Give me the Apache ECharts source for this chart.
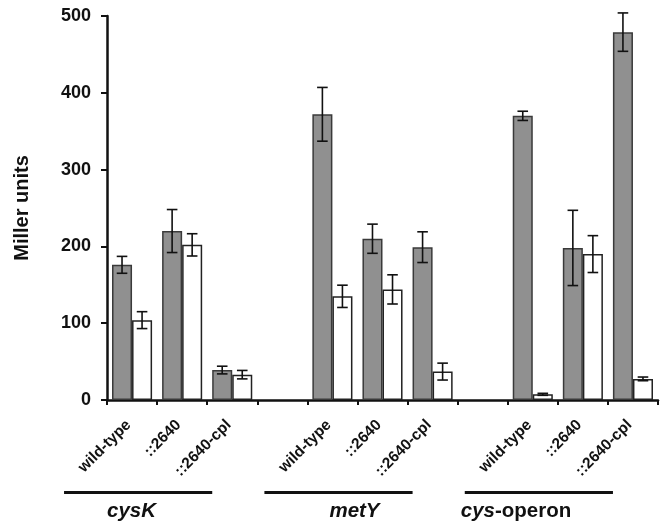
<!DOCTYPE html>
<html>
<head>
<meta charset="utf-8">
<script src="https://cdn.jsdelivr.net/npm/echarts@6/dist/echarts.min.js"></script>
<style>
html,body{margin:0;padding:0;background:#fff;}
#chart{width:665px;height:523px;}
</style>
</head>
<body>
<div id="chart"></div>
<script>
// ---- data ----
const categories = ['wild-type', '::2640', '::2640-cpl', '', 'wild-type', '::2640', '::2640-cpl', '', 'wild-type', '::2640', '::2640-cpl'];
const grayValues = [176, 220, 39, null, 372, 210, 199, null, 370, 198, 479];
const grayErrors = [11, 28, 5, null, 35, 19, 20, null, 6, 49, 25];
const whiteValues = [104, 202, 33, null, 135, 144, 37, null, 7.4, 190, 27.5];
const whiteErrors = [11, 14.5, 5.5, null, 14.5, 19, 11, null, 1.3, 24, 2.4];
const groupNames = ['cysK', 'metY', 'cys-operon'];
const groupFirstIndex = [0, 4, 8];
const groupLastIndex = [2, 6, 10];
const yTicks = [0, 100, 200, 300, 400, 500];

const chart = echarts.init(document.getElementById('chart'), null, {renderer: 'canvas'});
const FONT = 'Liberation Sans, Arial, Helvetica, sans-serif';

function errData(vals, errs) {
  const out = [];
  vals.forEach((v, i) => { if (v != null) out.push([i, v, errs[i]]); });
  return out;
}
function errRenderer(offsetFrac) {
  return function (params, api) {
    const i = api.value(0), v = api.value(1), e = api.value(2);
    const bw = api.size([1, 0])[0];
    const top = api.coord([i, v + e]);
    const bot = api.coord([i, v - e]);
    const cx = top[0] + offsetFrac * bw;
    const cap = 5.3;
    const style = {stroke: '#111', lineWidth: 1.6, fill: null};
    return {
      type: 'group',
      children: [
        {type: 'line', shape: {x1: cx, y1: top[1], x2: cx, y2: bot[1]}, style: style},
        {type: 'line', shape: {x1: cx - cap, y1: top[1], x2: cx + cap, y2: top[1]}, style: style},
        {type: 'line', shape: {x1: cx - cap, y1: bot[1], x2: cx + cap, y2: bot[1]}, style: style}
      ]
    };
  };
}

chart.setOption({
  animation: false,
  backgroundColor: '#ffffff',
  grid: {left: 107, right: 7, top: 16, bottom: 123, containLabel: false},
  xAxis: {
    type: 'category',
    data: categories,
    boundaryGap: true,
    axisLine: {show: true, lineStyle: {color: '#111', width: 2.5}},
    axisTick: {show: true, length: 5, interval: 0, lineStyle: {color: '#111', width: 2}},
    axisLabel: {interval: 0, rotate: 45, margin: 19, padding: [0, 5, 0, 0], fontFamily: FONT, fontWeight: 'bold', fontSize: 15.5, color: '#111'},
    splitLine: {show: false}
  },
  yAxis: {
    type: 'value',
    min: yTicks[0],
    max: yTicks[yTicks.length - 1],
    interval: 100,
    name: 'Miller units',
    nameLocation: 'middle',
    nameGap: 75,
    nameRotate: 90,
    nameTextStyle: {fontFamily: FONT, fontWeight: 'bold', fontSize: 20, color: '#111'},
    axisLine: {show: true, lineStyle: {color: '#111', width: 2.5}},
    axisTick: {show: true, length: 6, lineStyle: {color: '#111', width: 2}},
    axisLabel: {margin: 16, fontFamily: FONT, fontWeight: 'bold', fontSize: 18, color: '#111'},
    splitLine: {show: false}
  },
  series: [
    {
      type: 'bar', name: 'gray', data: grayValues, barWidth: '40%', barGap: '0%',
      itemStyle: {color: '#909090', borderColor: '#3a3a3a', borderWidth: 1.5}
    },
    {
      type: 'bar', name: 'white', data: whiteValues, barWidth: '40%', barGap: '0%',
      itemStyle: {color: '#ffffff', borderColor: '#222', borderWidth: 1.5}
    },
    {
      type: 'custom', name: 'grayErr', data: errData(grayValues, grayErrors),
      renderItem: errRenderer(-0.2), z: 5, encode: {x: 0, y: 1}
    },
    {
      type: 'custom', name: 'whiteErr', data: errData(whiteValues, whiteErrors),
      renderItem: errRenderer(0.2), z: 5, encode: {x: 0, y: 1}
    }
  ]
});

// group annotations under the category labels
const textOffsets = [-25, -3, -72];
const elements = [];
groupNames.forEach((name, g) => {
  const xa = chart.convertToPixel({xAxisIndex: 0}, groupFirstIndex[g]);
  const xb = chart.convertToPixel({xAxisIndex: 0}, groupLastIndex[g]);
  elements.push({
    type: 'line', silent: true,
    shape: {x1: xa - 68, y1: 492.5, x2: xb - 20, y2: 492.5},
    style: {stroke: '#111', lineWidth: 3}
  });
  let text;
  if (name === 'cys-operon') {
    text = '{i|cys}{n|-operon}';
  } else {
    text = '{i|' + name + '}';
  }
  elements.push({
    type: 'text', silent: true,
    x: xa + textOffsets[g], y: 511,
    style: {
      text: text,
      verticalAlign: 'middle', align: 'left',
      rich: {
        i: {fontFamily: FONT, fontWeight: 'bold', fontStyle: 'italic', fontSize: 20.5, fill: '#111'},
        n: {fontFamily: FONT, fontWeight: 'bold', fontSize: 20.5, fill: '#111'}
      }
    }
  });
});
chart.setOption({graphic: {elements: elements}});
</script>
</body>
</html>
